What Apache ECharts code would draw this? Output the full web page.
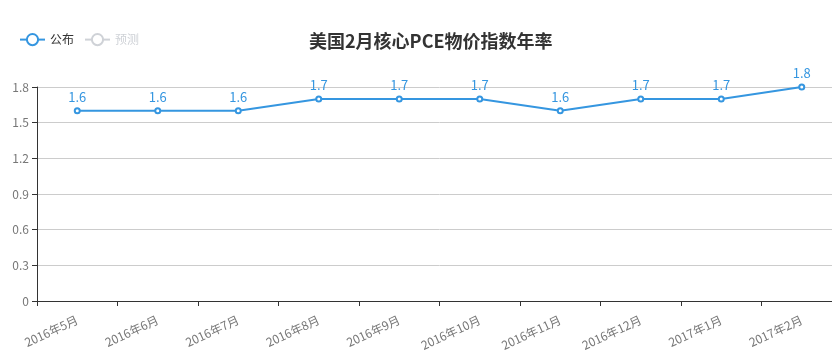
<!DOCTYPE html>
<html><head><meta charset="utf-8">
<script src="https://cdn.jsdelivr.net/npm/echarts@6/dist/echarts.min.js"></script>
<style>html,body{margin:0;padding:0;background:#fff;overflow:hidden;width:832px;height:363px}#c{width:842px;height:363px}</style>
</head><body><div id="c"></div>
<script>
var categories = ['2016年5月','2016年6月','2016年7月','2016年8月','2016年9月','2016年10月','2016年11月','2016年12月','2017年1月','2017年2月'];
var published = [1.6,1.6,1.6,1.7,1.7,1.7,1.6,1.7,1.7,1.8];
var forecast = [];
var chart = echarts.init(document.getElementById('c'));
var font = '"Noto Sans CJK SC", "Noto Sans", sans-serif';
chart.setOption({
  animation:false,
  textStyle:{fontFamily:font},
  title:{text:'美国2月核心PCE物价指数年率',left:304,top:27,textStyle:{fontSize:18,fontWeight:'bold',color:'#333',fontFamily:font}},
  legend:{left:14,top:28,itemGap:10,itemWidth:25,itemHeight:14,textStyle:{fontSize:12,color:'#333'},data:['公布','预测'],selected:{'公布':true,'预测':false}},
  grid:{left:37,right:0,top:87,bottom:62,containLabel:false},
  xAxis:{type:'category',data:categories,boundaryGap:true,
    axisLine:{lineStyle:{color:'#333'}},axisTick:{show:true,alignWithLabel:false,lineStyle:{color:'#333'}},
    axisLabel:{rotate:25,color:'#777',fontSize:12,interval:0,margin:18}},
  yAxis:{type:'value',min:0,max:1.8,interval:0.3,
    axisLine:{show:true,lineStyle:{color:'#333'}},axisTick:{show:true,lineStyle:{color:'#333'}},
    axisLabel:{color:'#777',fontSize:12},
    splitLine:{lineStyle:{color:'#ccc'}}},
  series:[
    {name:'公布',type:'line',data:published,symbol:'emptyCircle',symbolSize:5,
     itemStyle:{color:'#3596e0'},lineStyle:{width:2,color:'#3596e0'},
     label:{show:true,position:'top',color:'#3596e0',fontSize:13,distance:4}},
    {name:'预测',type:'line',data:forecast,symbol:'emptyCircle',itemStyle:{color:'#3596e0'}}
  ]
});
</script></body></html>
